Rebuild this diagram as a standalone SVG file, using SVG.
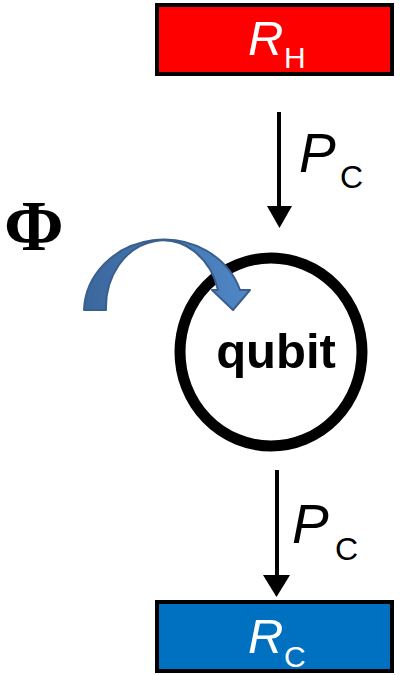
<svg xmlns="http://www.w3.org/2000/svg" width="405" height="675" viewBox="0 0 405 675">
<style>
.box{stroke:#000;stroke-width:4}
.lbl{font-family:"Liberation Sans",Arial,sans-serif;fill:#fff}
.it{font-style:italic}
.pc{font-family:"Liberation Sans",Arial,sans-serif;fill:#000}
.conn{stroke:#000;stroke-width:4;fill:none}
</style>
<defs>
<linearGradient id="bl" x1="0" y1="0" x2="1" y2="0">
<stop offset="0" stop-color="#3b679c"/>
<stop offset="1" stop-color="#5087c6"/>
</linearGradient>
</defs>
<rect width="405" height="675" fill="#fff"/>
<g id="connectors">
<line class="conn" x1="279" y1="112" x2="279" y2="210"/>
<polygon points="267,206 292,206 279.5,228" fill="#000"/>
<line class="conn" x1="277" y1="470" x2="277" y2="578"/>
<polygon points="263,575 290,575 276.5,597" fill="#000"/>
</g>
<g id="RH">
<rect class="box" x="157" y="5" width="235" height="69" fill="#ff0000"/>
<text class="lbl it" x="248" y="55" font-size="49">R</text>
<text class="lbl" x="284" y="68" font-size="30">H</text>
</g>
<g id="PC1">
<text class="pc it" x="299" y="172" font-size="55">P</text>
<text class="pc" x="340" y="188" font-size="32">C</text>
</g>
<g id="qubit">
<ellipse cx="271" cy="352" rx="91" ry="94" fill="#fff" stroke="#000" stroke-width="11"/>
<text x="276" y="368" font-size="49" font-weight="bold" text-anchor="middle" font-family="Liberation Sans,Arial,sans-serif">qubit</text>
</g>
<g id="phi-arrow">
<path d="M84,310 A80,73 0 0 1 240,290 L250,290 L233,310 L212,290 L218,290 A57,67 0 0 0 106,310 Z" fill="url(#bl)" stroke="#3a5f8f" stroke-width="2" stroke-linejoin="round"/>
</g>
<g id="phi">
<text x="4" y="250" font-size="72" font-weight="bold" font-family="Liberation Serif,Times New Roman,serif">Φ</text>
</g>
<g id="PC2">
<text class="pc it" x="292" y="543" font-size="55">P</text>
<text class="pc" x="335" y="560" font-size="32">C</text>
</g>
<g id="RC">
<rect class="box" x="157" y="602" width="235" height="69" fill="#0070c0"/>
<text class="lbl it" x="248" y="653" font-size="49">R</text>
<text class="lbl" x="284" y="667" font-size="30">C</text>
</g>
</svg>
